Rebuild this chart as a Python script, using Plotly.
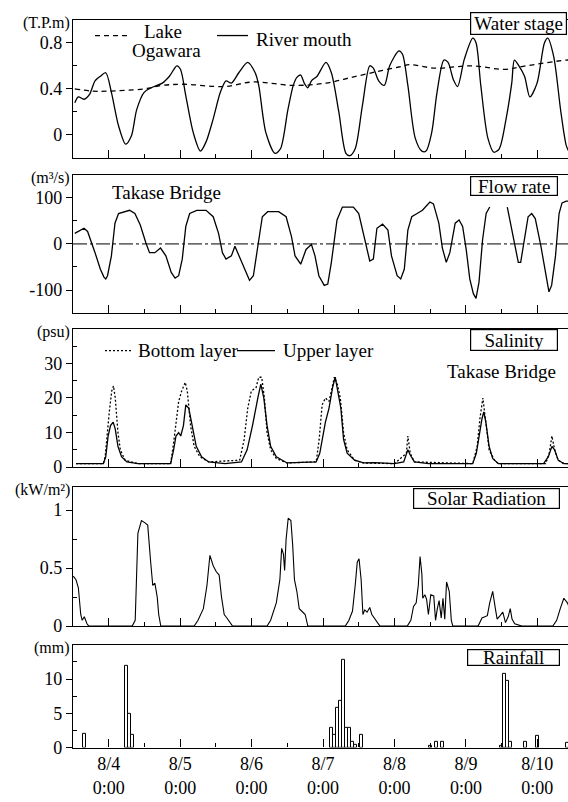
import plotly.graph_objects as go

# ---------------- data (time in hours since 8/4 0:00) ----------------
mouth_t = [-11.4, -10.2, -8.3, -6.5, -4.6, -2.8, -1.0, 0.9, 3.3, 5.7, 7.6, 9.4, 11.9, 14.3, 18.0, 20.4,
           22.9, 24.1, 25.9, 28.4, 30.8, 32.7, 35.1, 37.5, 39.4, 41.2, 43.7, 46.7, 49.2, 50.4, 52.8, 55.9,
           57.7, 60.2, 62.0, 63.2, 64.5, 65.7, 66.9, 68.1, 70.0, 73.0, 74.8, 77.3, 79.7, 81.0, 82.8, 85.2,
           87.7, 88.9, 90.7, 92.6, 94.4, 97.5, 98.7, 100.5, 103.0, 105.2, 106.6, 108.5, 110.3, 112.6, 114.0,
           115.8, 117.2, 119.5, 122.3, 123.4, 125.0, 127.4, 129.4, 131.2, 133.5, 135.4, 136.3, 137.8, 139.7,
           141.5, 143.9, 146.4, 147.5, 149.5, 151.9, 153.7, 154.7]
mouth_v = [0.28, 0.33, 0.31, 0.35, 0.47, 0.51, 0.54, 0.37, 0.08, -0.08, -0.01, 0.22, 0.37, 0.41, 0.45, 0.51,
           0.60, 0.57, 0.34, 0.02, -0.14, -0.06, 0.14, 0.37, 0.47, 0.45, 0.54, 0.63, 0.54, 0.43, 0.02, -0.16,
           -0.12, 0.22, 0.43, 0.50, 0.52, 0.45, 0.41, 0.47, 0.51, 0.63, 0.54, 0.20, -0.16, -0.18, -0.12, 0.25,
           0.60, 0.58, 0.47, 0.43, 0.60, 0.73, 0.70, 0.43, -0.03, -0.14, -0.14, 0.02, 0.37, 0.65, 0.63,
           0.48, 0.42, 0.66, 0.84, 0.80, 0.43, -0.03, -0.15, -0.12, 0.14, 0.45, 0.65, 0.60, 0.51,
           0.33, 0.45, 0.80, 0.84, 0.68, 0.20, -0.09, -0.15]

lake_t = [-11.4, -5.3, -0.4, 11.9, 18.0, 25.3, 38.8, 48.6, 62.0, 73.0, 81.6, 90.1, 97.5, 101.1, 109.7,
          121.9, 132.9, 140.3, 153.7, 155.0]
lake_v = [0.40, 0.38, 0.38, 0.40, 0.43, 0.44, 0.42, 0.46, 0.43, 0.45, 0.50, 0.55, 0.59, 0.61, 0.58,
          0.60, 0.57, 0.60, 0.65, 0.65]

flow_t = [-11.4, -10.2, -8.3, -7.1, -5.9, -4.6, -2.8, -1.6, -1.0, -0.4, 0.9, 2.1, 3.3, 5.1, 7.0, 8.8,
          10.6, 12.5, 13.7, 15.5, 17.4, 19.2, 21.0, 22.3, 23.5, 24.7, 25.9, 27.2, 29.6, 32.7, 35.1, 36.9,
          38.2, 39.4, 41.2, 42.4, 44.3, 46.1, 47.3, 48.6, 50.4, 51.6, 53.4, 57.1, 59.6, 61.4, 62.6, 64.5,
          66.3, 68.1, 69.3, 70.6, 72.4, 73.6, 74.8, 76.7, 78.5, 82.2, 84.0, 85.9, 87.7, 88.9, 90.1, 92.0,
          93.8, 95.0, 96.9, 98.1, 99.3, 100.5, 101.8, 103.6, 105.4, 107.9, 109.1, 110.9, 112.1, 113.4,
          114.6, 116.4, 117.7, 118.9, 120.1, 121.3, 122.5, 123.4, 124.4, 125.6, 126.8, 128.0, 131.0,
          133.9, 135.4, 136.6, 137.6, 138.4, 139.7, 140.9, 142.1, 143.3, 145.2, 147.0, 147.9, 148.8,
          150.1, 151.3, 152.3, 153.7, 155.0]
flow_v = [23, 27, 34, 27, 6, -19, -55, -72, -76, -69, -26, 45, 66, 70, 73, 66,
          41, 2, -19, -19, -9, -26, -62, -74, -69, -33, 38, 66, 73, 73, 59, 23,
          -19, -33, -26, -5, -33, -62, -79, -69, 2, 59, 70, 70, 59, 16, -26, -44,
          -12, -1, -26, -69, -90, -87, -40, 52, 80, 80, 66, 16, -37, -33, 34, 43,
          30, -26, -69, -76, -55, 30, 59, 66, 73, 91, 87, 45, -9, -40,
          -19, 45, 52, 38, -12, -76, -108, -118, -83, 9, 66, 80, None,
          80, 30, -12, -40, -40, 16, 59, 66, 55, -5, -69, -104, -90,
          -26, 66, 89, 93, 93]

sal_up_t = [-11.0, -1.8, -1.0, -0.2, 0.6, 1.5, 2.2, 3.1, 4.3, 6.1, 9.8, 20.8, 21.8, 22.6, 23.5, 24.2,
            25.1, 25.9, 26.9, 28.1, 29.4, 31.2, 33.6, 39.1, 44.6, 46.5, 48.3, 50.1, 51.1, 52.1, 53.2,
            54.4, 56.3, 59.9, 69.7, 70.9, 72.8, 74.0, 75.2, 76.1, 77.0, 78.0, 78.9, 80.1, 82.6, 85.6,
            89.3, 92.9, 96.0, 99.1, 100.0, 100.5, 101.3, 102.7, 107.6, 122.3, 123.5, 124.5, 125.4, 126.0,
            126.7, 127.8, 129.0, 130.9, 144.3, 146.1, 147.7, 148.9, 149.8, 151.0, 152.9, 155.1]
sal_up_v = [1.0, 1.0, 3, 9, 12, 13, 11, 6, 3, 1.5, 1, 1, 5, 9, 10, 9,
            12, 18, 17, 12, 6, 3, 1.5, 1, 1.5, 5, 12, 20, 24, 20, 12,
            6, 3, 1.2, 1.5, 4, 13, 17, 23, 26, 22, 17, 8, 4, 2, 1.2,
            1.3, 1.2, 1, 1.5, 3.5, 5, 3.5, 1.5, 1, 1, 4, 10, 14, 16,
            13, 6, 2.5, 1, 1, 1, 3, 6, 5, 2, 1, 1]

sal_bot_t = [-11.0, -1.8, -1.2, -0.5, 0.2, 1.0, 1.6, 2.2, 3.1, 3.9, 5.5, 9.8, 20.8, 21.8, 22.6, 23.5,
             24.5, 25.7, 26.4, 27.5, 28.7, 30.6, 33.6, 44.0, 45.5, 46.7, 47.9, 49.5, 50.4, 51.4, 52.3,
             53.2, 54.4, 56.3, 59.9, 69.7, 70.7, 71.7, 72.8, 74.0, 74.8, 75.8, 76.8, 77.8, 78.9, 80.1,
             82.6, 85.6, 96.0, 100.0, 100.5, 101.3, 102.7, 122.3, 123.8, 124.7, 125.7, 126.6, 127.8,
             129.6, 130.9, 146.8, 148.0, 148.9, 149.8, 151.0, 152.9, 155.1]
sal_bot_v = [1, 1, 3, 10, 16, 22, 23.5, 20, 10, 5, 2, 1, 1, 7, 12, 19,
             22, 24.5, 22, 12, 6, 3, 1.5, 2, 8, 17, 22, 23, 26, 26, 20,
             10, 5, 2.5, 1.2, 1.5, 8, 18, 20, 19, 22, 26, 24, 20, 10, 5,
             2, 1.2, 1, 4, 9, 4, 1.5, 1, 6, 14, 20, 14, 5,
             2, 1, 1, 4, 9, 5, 2, 1, 1]

solar_t = [-11.9, -11.0, -10.2, -9.4, -8.9, -8.2, -7.3, -6.7, 7.9, 8.9, 9.8, 11.0, 12.2, 13.1, 14.1,
           14.8, 15.5, 16.3, 16.8, 17.5, 28.7, 30.0, 31.8, 33.0, 34.0, 35.1, 36.1, 37.1, 37.9, 38.8,
           39.7, 41.6, 53.2, 54.4, 56.3, 57.5, 58.1, 58.7, 59.1, 59.6, 60.3, 61.2, 61.8, 62.4, 63.2,
           64.0, 64.8, 66.0, 66.9, 79.5, 80.7, 81.9, 82.8, 83.5, 84.1, 84.8, 85.4, 86.0, 86.8, 87.7,
           88.4, 89.9, 91.1, 100.3, 101.5, 102.4, 103.3, 104.0, 104.6, 105.2, 105.5, 106.2, 106.8,
           107.4, 108.2, 109.2, 109.8, 110.4, 111.0, 111.7, 112.3, 112.9, 113.5, 114.4, 115.1, 115.6,
           124.1, 125.4, 127.2, 128.0, 129.0, 129.9, 130.5, 131.5, 132.4, 133.3, 134.2, 134.9, 135.5,
           136.4, 137.6, 138.8, 149.2, 150.5, 151.7, 152.9, 154.1, 155.7]
solar_v = [0.43, 0.40, 0.33, 0.10, 0.05, 0.08, 0.02, 0, 0, 0.05, 0.80, 0.91, 0.89, 0.87, 0.55,
           0.35, 0.37, 0.25, 0.10, 0, 0, 0.05, 0.15, 0.35, 0.61, 0.52, 0.47, 0.44, 0.25, 0.10,
           0.07, 0, 0, 0.05, 0.20, 0.40, 0.67, 0.62, 0.48, 0.75, 0.93, 0.91, 0.70, 0.40, 0.30,
           0.15, 0.13, 0.10, 0, 0, 0.05, 0.13, 0.35, 0.55, 0.58, 0.40, 0.10, 0.14, 0.12, 0.16,
           0.10, 0.05, 0, 0, 0.05, 0.17, 0.20, 0.35, 0.60, 0.45, 0.24, 0.27, 0.23,
           0.10, 0.27, 0.26, 0.05, 0.15, 0.22, 0.07, 0.24, 0.06, 0.38, 0.30, 0.05, 0,
           0, 0.07, 0.09, 0.20, 0.30, 0.15, 0.06, 0.09, 0.12, 0.03, 0.08, 0.15, 0.06,
           0.02, 0.01, 0, 0, 0.05, 0.15, 0.24, 0.20, 0.10]

rain_t = [-8, 6, 7, 8, 75, 76, 77, 78, 79, 80, 81, 82, 83, 85, 108, 110, 112, 132, 133, 134, 135, 140, 144, 154]
rain_v = [2.0, 11.9, 4.9, 1.9, 2.9, 1.8, 5.8, 6.8, 12.8, 2.9, 2.9, 0.8, 0.4, 1.8, 0.3, 0.8, 0.8,
          0.3, 10.7, 9.8, 0.8, 0.8, 1.7, 0.7]

day_ticks = [0, 24, 48, 72, 96, 120, 144]
day_labels = ["8/4<br>0:00", "8/5<br>0:00", "8/6<br>0:00", "8/7<br>0:00", "8/8<br>0:00", "8/9<br>0:00", "8/10<br>0:00"]

# ---------------- layout helpers ----------------
W, H = 568, 802
ML = 73
PW = W - ML
FONT = "Liberation Serif"
px = lambda x: (x - ML) / PW
py = lambda y: 1 - y / H
XR = [-12, 154.3]

panels = [(20, 160), (177, 317), (333, 473), (493, 634), (653, 757)]

fig = go.Figure()
LW = 1.3
fig.add_trace(go.Scatter(x=lake_t, y=lake_v, mode="lines", line=dict(color="black", width=LW, dash="5px,4px", shape="spline"),
                         xaxis="x", yaxis="y"))
fig.add_trace(go.Scatter(x=mouth_t, y=mouth_v, mode="lines", line=dict(color="black", width=LW, shape="spline", smoothing=0.8),
                         xaxis="x", yaxis="y"))
fig.add_trace(go.Scatter(x=XR, y=[0, 0], mode="lines", line=dict(color="black", width=1, dash="14px,3px,3px,3px"),
                         xaxis="x2", yaxis="y2"))
fig.add_trace(go.Scatter(x=flow_t, y=flow_v, mode="lines", line=dict(color="black", width=LW), connectgaps=False,
                         xaxis="x2", yaxis="y2"))
fig.add_trace(go.Scatter(x=sal_bot_t, y=sal_bot_v, mode="lines", line=dict(color="black", width=LW, dash="2px,2px"),
                         xaxis="x3", yaxis="y3"))
fig.add_trace(go.Scatter(x=sal_up_t, y=sal_up_v, mode="lines", line=dict(color="black", width=LW),
                         xaxis="x3", yaxis="y3"))
fig.add_trace(go.Scatter(x=solar_t, y=solar_v, mode="lines", line=dict(color="black", width=1.1),
                         xaxis="x4", yaxis="y4"))
fig.add_trace(go.Bar(x=rain_t, y=rain_v, width=1.0, marker=dict(color="white", line=dict(color="black", width=1)),
                     xaxis="x5", yaxis="y5"))

yspecs = [
    dict(range=[-0.2, 1.0], tickvals=[0, 0.4, 0.8], ticktext=["0", "0.4", "0.8"], minor=[0.2, 0.6]),
    dict(range=[-150, 150], tickvals=[-100, 0, 100], ticktext=["-100", "0", "100"], minor=[-50, 50]),
    dict(range=[0, 40], tickvals=[0, 10, 20, 30], ticktext=["0", "10", "20", "30"], minor=[5, 15, 25, 35]),
    dict(range=[0, 1.2], tickvals=[0, 0.5, 1], ticktext=["0", "0.5", "1"], minor=[0.25, 0.75]),
    dict(range=[0, 15], tickvals=[0, 5, 10], ticktext=["0", "5", "10"], minor=[2.5, 7.5, 12.5]),
]

layout = dict(width=W, height=H, margin=dict(l=ML, r=0, t=0, b=0), showlegend=False,
              paper_bgcolor="white", plot_bgcolor="white",
              font=dict(family=FONT, size=17, color="black"), bargap=0)
for i, ((top, bot), ys) in enumerate(zip(panels, yspecs)):
    n = "" if i == 0 else str(i + 1)
    last = i == 4
    layout["xaxis" + n] = dict(
        domain=[0, 1], anchor="y" + n, range=XR, showgrid=False, zeroline=False,
        showline=True, linecolor="black", linewidth=1.3, mirror=True,
        tickmode="array", tickvals=day_ticks, ticktext=day_labels if last else [""] * 7,
        ticks="inside", ticklen=8, tickwidth=1.2, tickcolor="black",
        showticklabels=last, tickfont=dict(size=18, family=FONT),
        minor=dict(tickmode="array", tickvals=[-12 + 24 * k for k in range(8)], ticks="inside",
                   ticklen=4, tickwidth=1.2, tickcolor="black"),
    )
    if i > 0:
        layout["xaxis" + n]["matches"] = "x"
    layout["yaxis" + n] = dict(
        domain=[py(bot), py(top)], anchor="x" + n, range=ys["range"], showgrid=False, zeroline=False,
        showline=True, linecolor="black", linewidth=1.3, mirror=False,
        tickmode="array", tickvals=ys["tickvals"], ticktext=ys["ticktext"],
        ticks="outside", ticklen=6, tickwidth=1.2, tickcolor="black",
        tickfont=dict(size=18, family=FONT),
        minor=dict(tickmode="array", tickvals=ys["minor"], ticks="inside", ticklen=4, tickwidth=1.2, tickcolor="black"),
    )

annotations = []
shapes = []

def text(x, y, s, size=19, xanchor="center"):
    annotations.append(dict(x=px(x), y=py(y), xref="paper", yref="paper", text=s, showarrow=False,
                            xanchor=xanchor, yanchor="middle", font=dict(size=size, family=FONT)))

def box(x0, x1, y0, y1, s, size=19):
    annotations.append(dict(x=px((x0 + x1) / 2), y=py((y0 + y1) / 2), xref="paper", yref="paper", text=s,
                            showarrow=False, xanchor="center", yanchor="middle", bgcolor="white",
                            bordercolor="black", borderwidth=1.2, borderpad=0,
                            width=x1 - x0 - 2, height=y1 - y0 - 2, font=dict(size=size, family=FONT)))

def sample(x0, x1, y, dash):
    shapes.append(dict(type="line", xref="paper", yref="paper", x0=px(x0), x1=px(x1), y0=py(y), y1=py(y),
                       line=dict(color="black", width=1.3, dash=dash)))

# unit labels
for (top, _), unit in zip(panels, ["(T.P.m)", "(m³/s)", "(psu)", "(kW/m²)", "(mm)"]):
    text(72, top + 3, unit, size=16, xanchor="right")

# panel titles
box(470, 567, 12, 35, "Water stage")
box(470, 558, 178, 198, "Flow rate")
box(470, 558, 333, 355, "Salinity")
box(413, 560, 494, 515, "Solar Radiation")
box(467, 560, 657, 674, "Rainfall")

# legends / labels
sample(95, 128, 36, "5px,4px")
text(163, 32, "Lake")
text(166, 51, "Ogawara")
sample(217, 248, 36, "solid")
text(254, 40, "River mouth", xanchor="left")

text(166, 195, "Takase Bridge")

sample(105, 133, 355, "2px,2px")
text(136, 355, "Bottom layer", xanchor="left")
sample(237, 275, 355, "solid")
text(281, 355, "Upper layer", xanchor="left")
text(501, 376, "Takase Bridge")

layout["annotations"] = annotations
layout["shapes"] = shapes
fig.update_layout(**layout)

fig.write_html("out.html", config={"displayModeBar": False},
               post_script="document.body.style.margin='0';")
